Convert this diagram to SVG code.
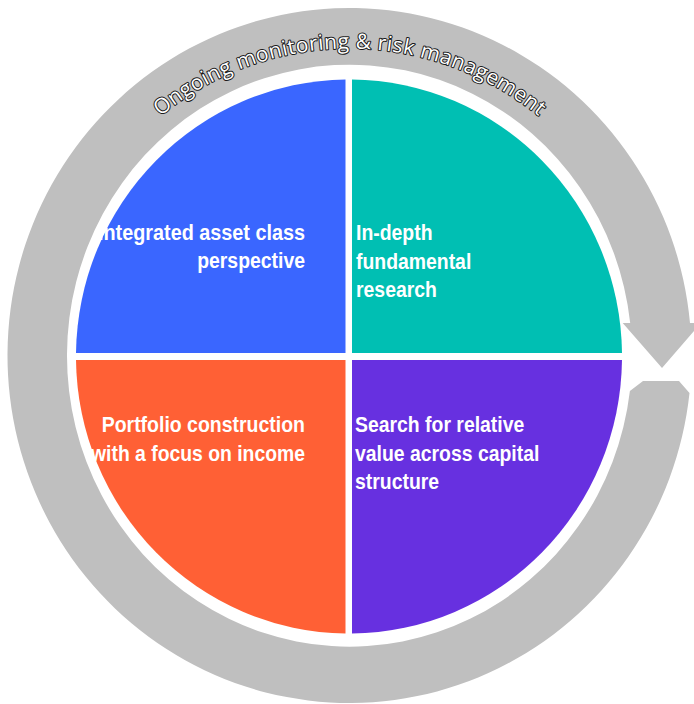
<svg xmlns="http://www.w3.org/2000/svg" width="694" height="704" viewBox="0 0 694 704">
  <style>
    .ring { fill: #bfbfbf; }
    .q-text { font-family: "Liberation Sans Narrow", "Liberation Sans", Arial, sans-serif; font-weight: bold; font-size: 22px; fill: #ffffff; }
    .arc-text { font-family: "Open Sans", "DejaVu Sans", sans-serif; font-size: 21px; fill: #ffffff; stroke: #1a1a1a; stroke-width: 2; paint-order: stroke fill; stroke-linejoin: round; }
  </style>
  <defs>
    <!-- baseline for the curved caption, running over the top of the ring -->
    <path id="captionArc" d="M 47.5 355.5 A 302 307 0 0 1 651.5 355.5"/>
  </defs>

  <rect width="694" height="704" fill="#ffffff"/>

  <!-- circular arrow around the four quadrants -->
  <g id="cycle-arrow">
    <path class="ring" d="M 689.5 393 A 342 347.5 0 1 1 690 323 L 701 323 L 662 368 L 622.7 323 L 630.2 323 A 282.5 291 0 1 0 629.9 391 L 643 381 L 679 381 Z"/>
    <text class="arc-text"><textPath href="#captionArc" startOffset="50%" text-anchor="middle" textLength="410" lengthAdjust="spacing">Ongoing monitoring &amp; risk management</textPath></text>
  </g>

  <g id="q-integrated">
    <path fill="#3a66ff" d="M 345.5 353 L 76 353 A 273 277 0 0 1 345.5 79.5 Z"/>
    <text class="q-text" x="98" y="240" textLength="207" lengthAdjust="spacingAndGlyphs">Integrated asset class</text>
    <text class="q-text" x="197.2" y="268" textLength="107.8" lengthAdjust="spacingAndGlyphs">perspective</text>
  </g>

  <g id="q-research">
    <path fill="#00bfb3" d="M 352 353 L 352 79.5 A 273 277 0 0 1 622 353 Z"/>
    <text class="q-text" x="356" y="240" textLength="76.5" lengthAdjust="spacingAndGlyphs">In-depth</text>
    <text class="q-text" x="356" y="268.5" textLength="115.3" lengthAdjust="spacingAndGlyphs">fundamental</text>
    <text class="q-text" x="356" y="297" textLength="80.9" lengthAdjust="spacingAndGlyphs">research</text>
  </g>

  <g id="q-relative-value">
    <path fill="#6730e0" d="M 352 360 L 622 360 A 273 277 0 0 1 352 633.5 Z"/>
    <text class="q-text" x="355" y="432" textLength="169.3" lengthAdjust="spacingAndGlyphs">Search for relative</text>
    <text class="q-text" x="355" y="460.5" textLength="184.4" lengthAdjust="spacingAndGlyphs">value across capital</text>
    <text class="q-text" x="355" y="489" textLength="84.1" lengthAdjust="spacingAndGlyphs">structure</text>
  </g>

  <g id="q-portfolio">
    <path fill="#ff6035" d="M 345.5 360 L 345.5 633.5 A 273 277 0 0 1 76 360 Z"/>
    <text class="q-text" x="101.7" y="432" textLength="203.3" lengthAdjust="spacingAndGlyphs">Portfolio construction</text>
    <text class="q-text" x="91" y="460.5" textLength="214" lengthAdjust="spacingAndGlyphs">with a focus on income</text>
  </g>
</svg>
